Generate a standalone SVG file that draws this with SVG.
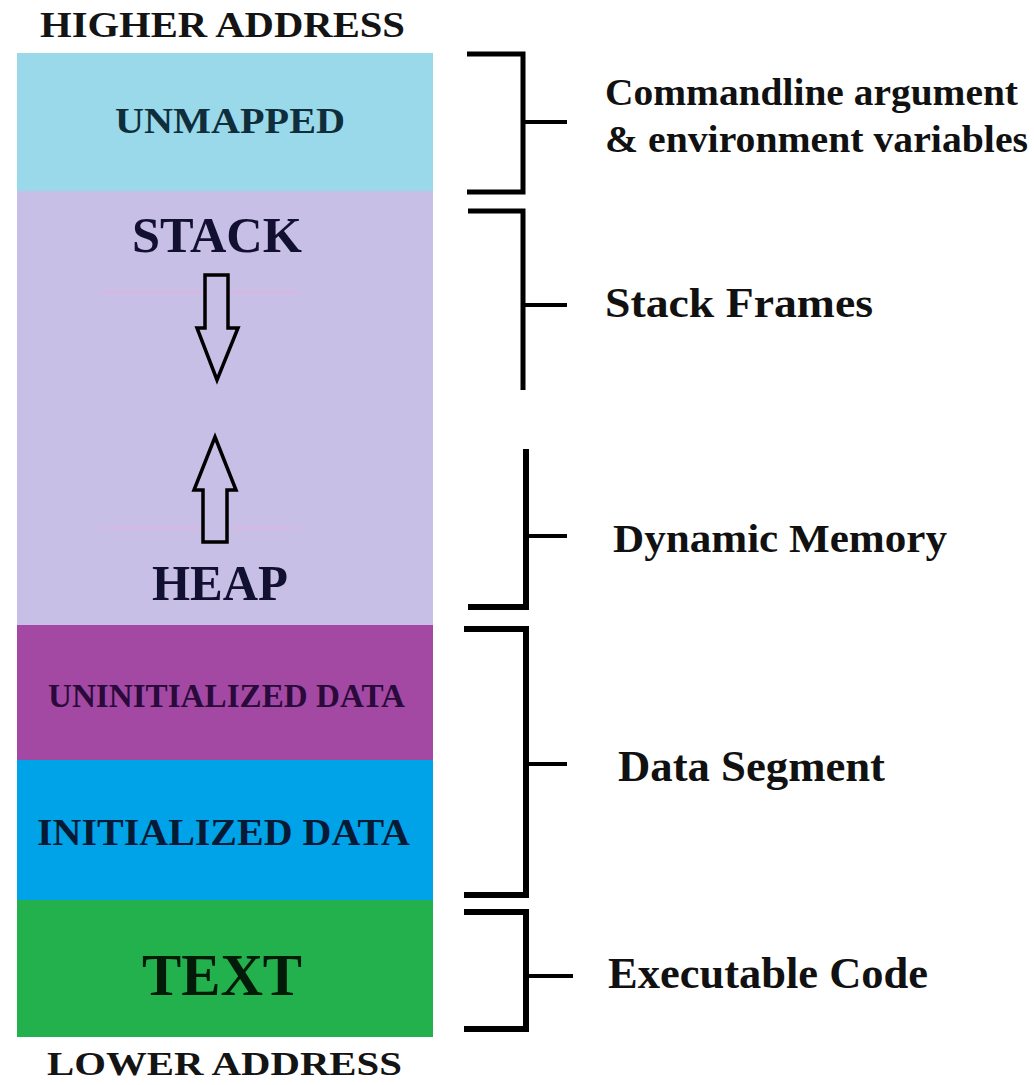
<svg xmlns="http://www.w3.org/2000/svg" width="1034" height="1085" viewBox="0 0 1034 1085">
<style>
.t{font-family:"Liberation Serif","Times New Roman",serif;font-weight:bold}
.c{text-anchor:middle}
.br{fill:none;stroke:#000;stroke-width:5;stroke-linecap:butt;stroke-linejoin:miter}
.brt{fill:none;stroke:#000;stroke-width:6;stroke-linecap:butt;stroke-linejoin:miter}
.tick{stroke:#000;stroke-width:4}
.arrow{fill:#c8bfe7;stroke:#000;stroke-width:3.5;stroke-linejoin:miter}
.faint{stroke:#e2b2df;stroke-width:2;opacity:0.8}
</style>
<rect width="1034" height="1085" fill="#ffffff"/>

<g id="label-higher">
<text class="t c" x="222.5" y="37" font-size="36" fill="#141414" textLength="365" lengthAdjust="spacingAndGlyphs">HIGHER ADDRESS</text>
</g>

<g id="seg-unmapped">
<rect x="17" y="53" width="416" height="138" fill="#99d9ea"/>
<text class="t c" x="230" y="133" font-size="35" fill="#0f2d3a" textLength="230" lengthAdjust="spacingAndGlyphs">UNMAPPED</text>
</g>

<g id="seg-stack-heap">
<rect x="17" y="191" width="416" height="434" fill="#c8bfe7"/>
<line class="faint" x1="100" y1="292" x2="300" y2="292"/>
<line class="faint" x1="100" y1="528" x2="300" y2="528"/>
<text class="t c" x="217" y="252" font-size="51" fill="#121030" textLength="170" lengthAdjust="spacingAndGlyphs">STACK</text>
<polygon class="arrow" points="205,275 228,275 228,328 238,328 217,380 197,328 205,328"/>
<polygon class="arrow" points="215,437 236,490 227,490 227,542 203,542 203,490 194,490"/>
<text class="t c" x="220" y="600" font-size="51" fill="#121030" textLength="136" lengthAdjust="spacingAndGlyphs">HEAP</text>
</g>

<g id="seg-uninit">
<rect x="17" y="625" width="416" height="135" fill="#a349a4"/>
<text class="t c" x="226.5" y="707" font-size="34" fill="#2a0a3a" textLength="357" lengthAdjust="spacingAndGlyphs">UNINITIALIZED DATA</text>
</g>

<g id="seg-init">
<rect x="17" y="760" width="416" height="140" fill="#00a2e8"/>
<text class="t c" x="223.5" y="845" font-size="37" fill="#061a35" textLength="373" lengthAdjust="spacingAndGlyphs">INITIALIZED DATA</text>
</g>

<g id="seg-text">
<rect x="17" y="900" width="416" height="137" fill="#22b14c"/>
<text class="t c" x="222" y="995" font-size="60" fill="#021a08" textLength="160" lengthAdjust="spacingAndGlyphs">TEXT</text>
</g>

<g id="label-lower">
<text class="t c" x="224.5" y="1075" font-size="34" fill="#141414" textLength="355" lengthAdjust="spacingAndGlyphs">LOWER ADDRESS</text>
</g>

<g id="connectors">
<polyline class="br" points="467,54 523,54 523,192 467,192"/>
<line class="tick" x1="523" y1="122" x2="567" y2="122"/>
<polyline class="br" points="468,211 523,211 523,390"/>
<line class="tick" x1="523" y1="305" x2="567" y2="305"/>
<polyline class="brt" points="526,449 526,607 468,607"/>
<line class="tick" x1="526" y1="536" x2="567" y2="536"/>
<polyline class="brt" points="464,629 526,629 526,895 464,895"/>
<line class="tick" x1="526" y1="764" x2="567" y2="764"/>
<polyline class="brt" points="464,912 526,912 526,1029 464,1029"/>
<line class="tick" x1="526" y1="976" x2="573" y2="976"/>
</g>

<g id="desc-cmdline">
<text class="t" x="605" y="105" font-size="37" fill="#111" textLength="413" lengthAdjust="spacingAndGlyphs">Commandline argument</text>
<text class="t" x="605" y="152" font-size="37" fill="#111" textLength="423" lengthAdjust="spacingAndGlyphs">&amp; environment variables</text>
</g>
<g id="desc-stack">
<text class="t" x="605" y="317" font-size="43" fill="#111" textLength="268" lengthAdjust="spacingAndGlyphs">Stack  Frames</text>
</g>
<g id="desc-dynamic">
<text class="t" x="613" y="552" font-size="41" fill="#111" textLength="334" lengthAdjust="spacingAndGlyphs">Dynamic Memory</text>
</g>
<g id="desc-data">
<text class="t" x="618" y="781" font-size="44" fill="#111" textLength="267" lengthAdjust="spacingAndGlyphs">Data Segment</text>
</g>
<g id="desc-code">
<text class="t" x="608" y="988" font-size="44" fill="#111" textLength="320" lengthAdjust="spacingAndGlyphs">Executable Code</text>
</g>
</svg>
